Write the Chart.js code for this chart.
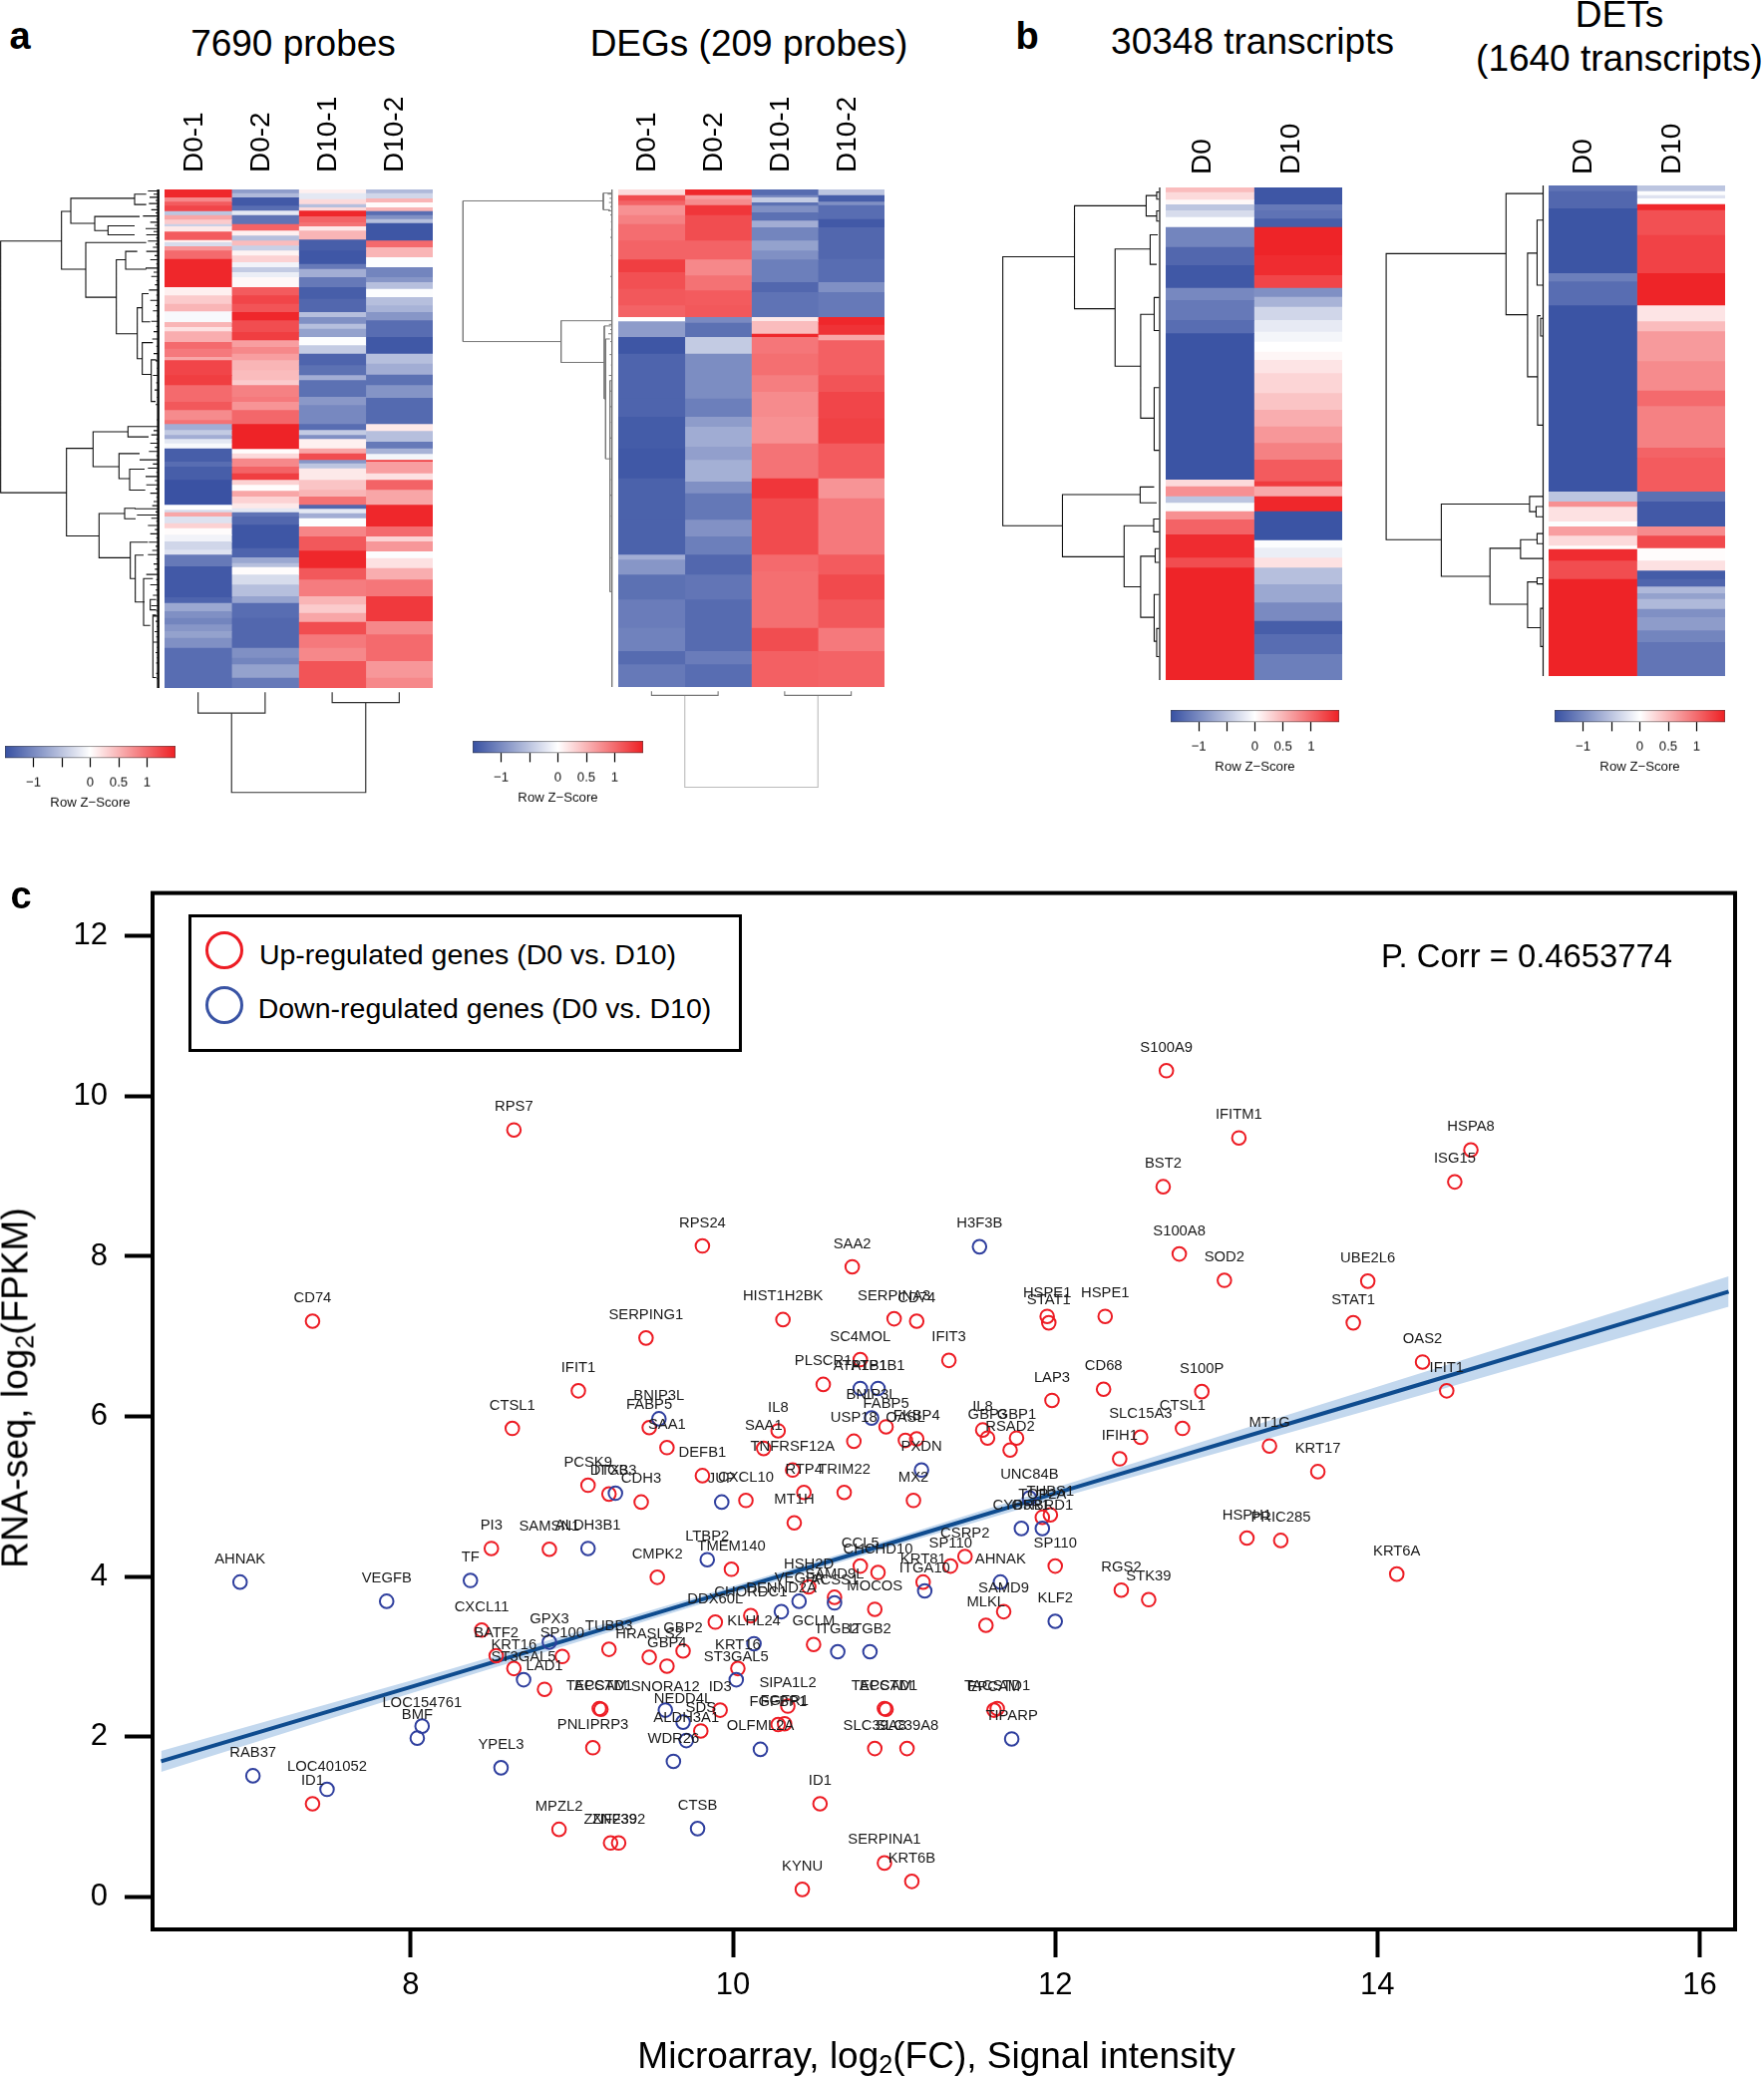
<!DOCTYPE html>
<html><head><meta charset="utf-8">
<script src="https://cdn.jsdelivr.net/npm/chart.js@4"></script>
<style>
html,body{margin:0;padding:0;background:#fff;width:1769px;height:2082px;overflow:hidden;font-family:"Liberation Sans",Arial,sans-serif;color:#000}
canvas{position:absolute;display:block}
.t{position:absolute;white-space:nowrap;line-height:1;transform:translate(-50%,-50%);z-index:5}
sub{font-size:68%;line-height:0;vertical-align:-0.22em}
#legend{position:absolute;left:189px;top:917px;width:549px;height:132px;border:3px solid #000;background:#fff;z-index:4}
.c{position:absolute;width:32px;height:32px;border-radius:50%;border-width:3.5px;border-style:solid;z-index:5}
</style></head><body>
<script>
// ---------- heat-map values: flat lists of (row end, z-score) ----------
const columnsA=['D0-1','D0-2','D10-1','D10-2'], columnsB=['D0','D10'];
const a1Rows=[0,1500], a2Rows=[0,1497], b1Rows=[0,1482], b2Rows=[0,1476];
const a1_D01=[25,1.45,38,.8,50,1.1,66,1.25,78,-.5,92,.6,105,.35,112,-.4,128,.15,153,1.1,160,.1,172,-.3,185,.7,210,1.0,295,1.45,320,.1,345,.35,368,.5,400,-.05,415,.5,428,.2,460,.55,480,1.0,505,.9,515,.6,560,1.25,590,1.3,640,1.0,665,1.12,695,.78,707,.95,725,-.7,740,-.45,752,-.7,765,-.2,780,-.05,820,-1.38,835,-1.25,875,-1.38,950,-1.48,965,0,972,-.3,985,.6,1005,-.25,1020,.3,1040,.02,1060,-.1,1085,-.35,1100,-.25,1135,-1.15,1228,-1.42,1245,-1.33,1270,-.75,1290,-.95,1310,-1.05,1330,-.9,1350,-.8,1380,-.95,1500,-1.25];
const a1_D02=[12,-.85,25,-.6,50,-1.42,65,-1.25,78,-.2,105,-1.2,125,1.05,140,.1,155,-.55,170,.45,185,-.4,200,.08,220,.3,235,-.1,250,-.45,265,-.15,295,.05,320,1.1,345,1.25,370,1.15,395,1.45,430,1.2,455,1.3,475,.65,495,.8,515,.65,545,.5,575,.45,590,.35,625,.85,640,.9,665,.72,707,1.02,782,1.48,795,.02,810,.25,835,.8,855,1.05,875,1.3,890,.3,908,.02,925,.6,945,.3,960,.15,972,-.2,985,-1.2,1010,-1.3,1080,-1.45,1108,-1.33,1125,-.75,1137,-.55,1160,.02,1190,-.3,1225,-.55,1245,-.78,1290,-1.25,1380,-1.3,1410,-.95,1430,-1.05,1470,-.8,1500,-1.15];
const a1_D101=[12,.1,30,-.2,45,.25,55,-.55,65,.25,82,1.45,100,1.05,112,.95,125,.15,152,.5,185,-1.38,225,-1.44,240,-1.15,265,-.7,295,-1.15,330,-1.38,370,-1.3,385,-.55,405,-.95,420,-.55,445,-.8,470,-.02,495,-.45,530,-1.33,560,-1.22,575,-.7,625,-1.22,650,-.88,670,-1.02,707,-1.02,725,-1.25,740,-.45,752,-.95,780,.1,795,.6,815,1.2,825,-.9,840,-.5,875,.15,905,.4,925,.5,950,.95,962,-1.3,975,-.2,990,-.7,1015,-.02,1045,.82,1088,1.12,1140,1.45,1175,1.12,1225,.88,1250,.5,1275,.35,1302,.6,1340,1.2,1380,.9,1420,.8,1500,1.15];
const a1_D102=[12,-.6,28,-.35,40,.5,55,.03,66,.5,78,-1.25,90,-.95,102,-.55,155,-1.45,175,1.0,205,.5,235,-.02,265,-1.05,280,-.9,300,-.55,325,-.02,350,-.55,370,-.65,395,-.9,445,-1.25,495,-1.43,525,-.55,558,-.7,590,-1.22,628,-.92,707,-1.28,728,.15,760,-.55,780,-1.15,797,-.65,815,-.08,820,1.3,855,.65,875,.2,905,1.05,950,.6,1015,1.45,1045,1.0,1060,.3,1090,.7,1110,-.02,1140,.2,1175,.55,1225,.92,1300,1.33,1340,.8,1420,1.0,1470,.7,1500,.8];
const a2_D01=[18,.25,35,1.2,48,1.05,78,.74,105,.85,155,.98,212,1.05,250,1.3,300,1.18,350,1.12,385,1.05,398,0,445,-.85,495,-1.45,630,-1.33,685,-1.33,780,-1.4,870,-1.43,995,-1.35,1100,-1.35,1115,-.7,1160,-.9,1235,-1.22,1320,-1.12,1390,-1.07,1430,-1.27,1497,-1.15];
const a2_D02=[18,1.45,30,.65,48,.78,78,1.35,155,1.2,212,1.05,260,.8,305,.95,350,1.1,385,1.12,402,-1.0,445,-1.22,495,-.45,630,-.98,685,-1.1,715,-.85,775,-.71,815,-.82,880,-.68,915,-.95,995,-1.16,1045,-.94,1100,-1.1,1160,-1.3,1235,-1.18,1390,-1.27,1430,-1.12,1497,-1.25];
const a2_D101=[18,-1.27,25,-1.0,40,-.45,50,-1.22,70,-.95,95,-1.22,115,-.7,155,-1.05,185,-.8,212,-.95,280,-1.1,310,-1.3,385,-1.2,397,.15,435,.45,445,1.45,495,.92,560,.97,610,.87,685,.78,765,.74,870,.94,930,1.35,1100,1.21,1150,1.0,1320,.97,1390,1.2,1497,1.07];
const a2_D102=[18,-.5,38,-1.38,48,-.95,90,-1.25,115,-1.42,210,-1.3,280,-1.25,310,-.95,385,-1.15,408,1.45,438,1.38,455,.6,560,1.07,610,1.15,690,1.25,765,1.28,870,1.1,930,.72,1100,.9,1160,1.1,1235,1.22,1320,1.12,1390,.9,1497,1.05];
const b1_D0=[15,.45,38,.25,52,.05,70,-.5,90,-.3,120,-.02,180,-1.05,235,-1.3,303,-1.43,340,-1.02,400,-1.15,440,-1.25,880,-1.47,900,.25,930,.75,950,-.5,975,-.03,1000,.75,1045,1.05,1115,1.42,1145,1.2,1482,1.47];
const b1_D10=[52,-1.45,70,-1.15,95,-1.2,120,-1.38,205,1.47,265,1.42,303,1.25,330,-.95,360,-.65,400,-.35,435,-.18,465,-.08,495,0,520,.06,560,.18,620,.28,670,.4,720,.55,770,.7,820,.85,885,1.1,900,1.32,930,.58,975,1.45,1062,-1.47,1085,-.02,1115,-.15,1145,.2,1195,-.55,1250,-.75,1305,-1.0,1345,-1.38,1405,-1.25,1482,-1.1];
const b2_D0=[18,-1.2,70,-1.3,265,-1.46,290,-1.1,362,-1.25,922,-1.47,952,-.5,968,.75,1012,.2,1027,-.02,1055,.65,1085,.25,1095,.02,1130,1.42,1185,1.2,1476,1.48];
const b2_D10=[18,-.5,30,-.02,40,-.25,57,0,75,1.45,150,1.18,265,1.27,362,1.47,410,.18,440,.45,530,.68,618,.78,665,1.0,790,.85,820,1.05,922,1.1,952,-1.22,1027,-1.42,1055,.78,1092,1.22,1130,.02,1160,.2,1185,-1.4,1208,-1.32,1228,-.6,1245,-.8,1275,-.6,1300,-.95,1340,-.85,1375,-1.05,1476,-1.18];
const keyTicks=[-1,-.5,0,.5,1];

// ---------- dendrograms: [join, rowTop, rowBottom, childTop, childBottom] ----------
const a1TreeRows=[363,1320], a2TreeRows=[363,1318], b1TreeRows=[369,1336], b2TreeRows=[364,1328];
const a1Tree=[[2,462,945,185,200],[185,405,516,213,258],[213,380,428,405,285],[405,372,392,440,440],[285,415,442,420,325],[325,433,450,405,405],[258,465,570,440,350],[350,498,640,378,413],[378,482,516,413,440],[413,590,688,428,428],[428,563,617,447,452],[428,657,718,460,455],[455,690,770,470,468],[200,860,1028,280,298],[280,828,895,385,358],[385,818,838,450,447],[358,870,918,420,390],[390,900,940,435,437],[298,985,1070,375,392],[375,975,995,408,408],[392,1040,1110,445,407],[407,1065,1155,432,435],[432,1110,1200,460,452],[452,1150,1170,470,470],[460,1180,1300,470,470]];
const a1CombRow=[366,372,378,384,390,396,402,408,414,420,426,432,438,444,450,456,462,468,474,482,490,498,506,514,522,530,538,546,556,566,576,586,596,606,616,626,636,650,664,678,692,706,720,734,748,762,776,790,805,818,826,834,842,850,858,866,874,882,890,898,906,914,922,930,938,946,954,962,970,976,982,988,994,1000,1008,1016,1024,1032,1040,1048,1056,1064,1072,1082,1092,1102,1112,1122,1132,1142,1152,1162,1172,1182,1192,1202,1212,1222,1232,1242,1252,1262,1272,1282,1292,1302,1312];
const a1CombFrom=[445,462,450,468,448,470,455,468,430,470,452,466,438,462,440,470,445,468,460,440,465,452,470,438,462,455,470,466,448,470,452,468,460,472,455,470,462,458,470,462,468,472,460,470,465,472,468,474,472,450,462,455,470,452,466,448,470,420,460,445,470,438,466,440,468,452,470,462,458,405,468,412,455,470,445,466,452,470,448,468,458,445,470,462,466,440,470,452,468,460,472,455,470,462,468,472,465,470,462,472,468,472,470,474,470,472,474];
const a2Tree=[[43,385,655,465,338],[465,370,402,490,485],[338,615,695,490,468],[468,625,765,488,472],[472,650,880,485,485],[485,730,1135,491,491]];
const a2CombRow=[372,380,388,396,404,412,425,440,455,470,490,510,530,550,570,590,600,622,632,640,655,680,700,720,750,780,810,840,880,920,950,990,1030,1070,1110,1150,1190,1230,1270,1310];
const a2CombFrom=[478,484,482,486,480,486,488,488,486,490,488,490,486,490,488,492,490,482,486,480,486,484,488,482,486,484,488,484,486,488,486,488,490,488,490,492,490,492,490,492];
const b1Tree=[[51,505,1033,194,170],[194,405,607,337,275],[337,385,425,358,358],[358,378,392,363,363],[358,415,435,363,363],[275,490,720,345,326],[345,462,520,360,358],[326,618,822,353,353],[353,585,650,363,363],[353,762,885,363,363],[170,972,1094,325,293],[325,957,988,353,358],[293,1033,1153,352,326],[352,1020,1045,363,363],[326,1093,1213,355,353],[355,1078,1105,363,363],[353,1168,1260,363,358],[358,1235,1290,363,363]];
const b2Tree=[[814,498,1060,1053,924],[1053,380,618,1127,1096],[1096,497,740,1115,1116],[1115,432,560,1127,1127],[1116,620,835,1122,1127],[1122,625,660,1127,1127],[924,990,1132,1100,1021],[1100,975,1005,1127,1113],[1113,995,1015,1127,1127],[1021,1077,1187,1082,1096],[1082,1060,1097,1115,1127],[1115,1048,1068,1127,1127],[1096,1143,1233,1115,1122],[1115,1135,1147,1127,1127],[1122,1195,1270,1127,1127]];
// column trees: [leftColumn, rightColumn, joinLevel, leftChild, rightChild]
const a1ColTree=[[.5,1.5,1368,1328,1328],[2.5,3.5,1348,1328,1328],[1,3,1520,1368,1348]];
const a2ColTree=[[.5,1.5,1334,1326,1326],[2.5,3.5,1334,1326,1326],[1,3,1510,1334,1334]];

// ---------- scatter values ----------
const upGenes=['RPS7','CD74','RPS24','SERPING1','IFIT1','CTSL1','FABP5','SAA1','DEFB1','PCSK9','DTX3','CDH3','PI3','SAMSN1','CMPK2','TMEM140','CXCL11','BATF2','KRT16','SP100','TUBB3','HRASLS2','GBP2','GBP4','LAD1','TACSTD1','EPCAM','ID3','SDS','PNLIPRP3','DDX60L','CHORDC1','KRT16','GCLM','HSH2D','SAMD9L','MOCOS','CCL5','CHCHD10','KRT81','SP110','CSRP2','SIPA1L2','FGFBP1','FGFR1','TACSTD1','EPCAM','SLC39A8','SLC39A8','ID1','MPZL2','ZNF239','ZNF392','KYNU','SERPINA1','KRT6B','TACSTD1','EPCAM','MLKL','SAMD9','ID1','SAA2','HIST1H2BK','SERPINA3','CD74','HSPE1','STAT1','HSPE1','SC4MOL','IFIT3','PLSCR1','LAP3','CD68','FABP5','USP18','OASL','FKBP4','IL8','SAA1','TNFRSF12A','RTP4','TRIM22','MT1H','CXCL10','MX2','IL8','GBP3','GBP1','RSAD2','THBS1','TOP2A','SP110','S100A9','IFITM1','HSPA8','ISG15','BST2','S100A8','SOD2','UBE2L6','STAT1','OAS2','IFIT1','S100P','CTSL1','SLC15A3','IFIH1','MT1G','KRT17','HSPH1','PRIC285','KRT6A','RGS2','STK39'];
const upX=[8.64,7.39,9.81,9.46,9.04,8.63,9.48,9.59,9.81,9.10,9.23,9.43,8.50,8.86,9.53,9.99,8.44,8.53,8.64,8.94,9.23,9.48,9.69,9.59,8.83,9.17,9.18,9.92,9.80,9.13,9.89,10.11,10.03,10.50,10.47,10.63,10.88,10.79,10.90,11.18,11.35,11.44,10.34,10.28,10.32,10.94,10.95,10.88,11.08,10.54,8.92,9.24,9.29,10.43,10.94,11.11,11.64,11.62,11.57,11.68,7.39,10.74,10.31,11.0,11.14,11.95,11.96,12.31,10.79,11.34,10.56,11.98,12.30,10.95,10.75,11.07,11.14,10.28,10.19,10.37,10.44,10.69,10.38,10.08,11.12,11.55,11.58,11.76,11.72,11.97,11.92,12.0,12.69,13.14,14.58,14.48,12.67,12.77,13.05,13.94,13.85,14.28,14.43,12.91,12.79,12.53,12.40,13.33,13.63,13.19,13.40,14.12,12.41,12.58];
const upY=[9.58,7.19,8.13,6.98,6.32,5.85,5.86,5.61,5.26,5.14,5.03,4.93,4.35,4.34,3.99,4.09,3.33,3.01,2.85,3.0,3.09,2.99,3.07,2.88,2.59,2.35,2.34,2.33,2.07,1.86,3.43,3.51,2.85,3.15,3.87,3.74,3.59,4.13,4.05,3.93,4.13,4.25,2.38,2.15,2.16,2.35,2.34,1.85,1.85,1.16,.84,.67,.67,.09,.42,.19,2.35,2.33,3.39,3.56,1.16,7.87,7.21,7.22,7.19,7.25,7.17,7.25,6.71,6.70,6.40,6.20,6.34,5.87,5.69,5.70,5.72,5.82,5.60,5.33,5.05,5.05,4.67,4.95,4.95,5.83,5.73,5.73,5.58,4.77,4.74,4.13,10.32,9.48,9.33,8.93,8.87,8.03,7.70,7.69,7.17,6.68,6.32,6.31,5.85,5.74,5.47,5.63,5.31,4.48,4.45,4.03,3.83,3.71];
const downGenes=['AHNAK','VEGFB','RAB37','LOC401052','BMF','LOC154761','YPEL3','TF','ALDH3B1','GPX3','ST3GAL5','ITGB3','BNIP3L','JUP','LTBP2','VEGFA','ACSS1','DENND2A','KLHL24','ITGB2','ITGB2','ST3GAL5','SNORA12','NEDD4L','ALDH3A1','WDR26','OLFML2A','CTSB','ITGA10','AHNAK','KLF2','TIPARP','H3F3B','ATP1B1','ATP1B1','BNIP3L','PXDN','UNC84B','CYB5R1','ORBRD1'];
const downX=[6.94,7.85,7.02,7.48,8.04,8.07,8.56,8.37,9.10,8.86,8.70,9.27,9.54,9.93,9.84,10.41,10.63,10.30,10.13,10.65,10.85,10.02,9.58,9.69,9.71,9.63,10.17,9.78,11.19,11.66,12.0,11.73,11.53,10.79,10.90,10.86,11.17,11.84,11.79,11.92];
const downY=[3.93,3.69,1.51,1.34,1.98,2.13,1.61,3.95,4.35,3.18,2.71,5.04,5.97,4.93,4.21,3.69,3.67,3.56,3.16,3.06,3.06,2.71,2.33,2.18,1.95,1.69,1.84,.85,3.82,3.93,3.44,1.97,8.12,6.35,6.35,5.98,5.33,4.98,4.60,4.60];
const fitX=[6.45,8,10,11,12,14,16.18];
const fitY=[1.69,2.62,3.83,4.43,5.04,6.24,7.56];
const fitLow=[1.56,2.54,3.78,4.38,4.97,6.11,7.37];
const fitHigh=[1.82,2.70,3.88,4.48,5.11,6.37,7.75];
const xTicks=[8,10,12,14,16], yTicks=[0,2,4,6,8,10,12];

// ---------- helpers ----------
const FONT='"Liberation Sans",Arial,sans-serif';
Chart.defaults.font.family=FONT;
Chart.defaults.color='#000';
const BLUE=[55,80,162], RED=[238,32,36];
function zColor(z){
  const f=Math.min(1,Math.abs(z)/1.5), c=z<0?BLUE:RED;
  return `rgb(${c.map(v=>Math.round(255+(v-255)*f)).join(',')})`;
}
function canvas(l,t,w,h){
  const c=document.createElement('canvas');
  c.width=w;c.height=h;c.style.cssText=`left:${l}px;top:${t}px;width:${w}px;height:${h}px`;
  document.body.appendChild(c);return c.getContext('2d');
}
const base={responsive:false,animation:false,devicePixelRatio:1,layout:{padding:0},plugins:{legend:{display:false},tooltip:{enabled:false}}};
function text(s,x,y,size,extra){
  const d=document.createElement('div');d.className='t';d.innerHTML=s;
  d.style.cssText=`left:${x}px;top:${y}px;font-size:${size}px;${extra||''}`;
  document.body.appendChild(d);
}
function heat(l,t,w,h,head,pad,offset,labelSize,names,rows,cols){
  const datasets=cols.map((flat,k)=>{
    const data=[],bg=[];let prev=rows[0];
    for(let i=0;i<flat.length;i+=2){data.push({x:names[k],y:[prev,flat[i]]});bg.push(zColor(flat[i+1]));prev=flat[i];}
    return {data,backgroundColor:bg,borderWidth:0,grouped:false,barPercentage:1,categoryPercentage:1};
  });
  new Chart(canvas(l,t-head,w,h+head),{type:'bar',data:{labels:names,datasets},options:{...base,
    scales:{
      x:{position:'top',offset:true,grid:{display:false},border:{display:false},
         afterFit:s=>{s.height=head;s.paddingLeft=0;s.paddingRight=0;},
         ticks:{autoSkip:false,minRotation:90,maxRotation:90,padding:pad,labelOffset:offset,font:{size:labelSize}}},
      y:{display:false,reverse:true,min:rows[0],max:rows[1]}
    }}});
}
function treeChart(l,t,w,h,xr,yr,tree,spine,combRow,combFrom,color,lw,spineW){
  const data=[];const gap={x:NaN,y:NaN};
  tree.forEach(m=>{data.push({x:m[3],y:m[1]},{x:m[0],y:m[1]},{x:m[0],y:m[2]},{x:m[4],y:m[2]},gap);});
  (combRow||[]).forEach((r,i)=>{data.push({x:combFrom[i],y:r},{x:spine,y:r},gap);});
  const spineData=[{x:spine,y:yr[0]},{x:spine,y:yr[1]}];
  new Chart(canvas(l,t,w,h),{type:'scatter',data:{datasets:[
    {data,showLine:true,pointRadius:0,borderColor:color,borderWidth:lw,spanGaps:false,clip:false},
    {data:spineData,showLine:true,pointRadius:0,borderColor:color,borderWidth:spineW,clip:false}]},
    options:{...base,scales:{x:{display:false,min:xr[0],max:xr[1]},y:{display:false,reverse:true,min:yr[0],max:yr[1]}}}});
}
function colTree(l,t,w,h,yr,tree,colors,lw){
  const datasets=tree.map((m,i)=>({data:[{x:m[0],y:m[3]},{x:m[0],y:m[2]},{x:m[1],y:m[2]},{x:m[1],y:m[4]}],showLine:true,pointRadius:0,borderColor:colors[i],borderWidth:lw,clip:false}));
  new Chart(canvas(l,t,w,h),{type:'scatter',data:{datasets},options:{...base,scales:{x:{display:false,min:0,max:4},y:{display:false,reverse:true,min:yr[0],max:yr[1]}}}});
}
function key(l,t,w,barH){
  const axisH=52;
  new Chart(canvas(l,t,w,barH+axisH),{type:'bar',data:{labels:['z'],datasets:[{data:[[-1.5,1.5]],borderWidth:.8,borderColor:'#444',borderSkipped:false,barPercentage:1,categoryPercentage:1,
    backgroundColor:c=>{const a=c.chart.chartArea;if(!a)return '#fff';const g=c.chart.ctx.createLinearGradient(a.left,0,a.right,0);
      g.addColorStop(0,zColor(-1.5));g.addColorStop(.5,zColor(0));g.addColorStop(1,zColor(1.5));return g;}}]},
    options:{...base,indexAxis:'y',scales:{
      y:{display:false},
      x:{min:-1.5,max:1.5,position:'bottom',afterFit:s=>{s.height=axisH;s.paddingLeft=0;s.paddingRight=0;},afterBuildTicks:s=>{s.ticks=keyTicks.map(v=>({value:v}))},
         border:{display:false},grid:{drawOnChartArea:false,tickLength:9,tickColor:'#000',tickWidth:1.2},
         ticks:{padding:7,maxRotation:0,autoSkip:false,font:{size:13.2},color:'#111',callback:v=>v===-1?'\u22121':v===-.5?'':String(v)},
         title:{display:true,text:'Row Z\u2212Score',font:{size:13.2},color:'#111',padding:{top:0,bottom:0}}}
    }}});
}

// ---------- panel a ----------
heat(165,190,269,500,100,9,30,28,columnsA,a1Rows,[a1_D01,a1_D02,a1_D101,a1_D102]);
heat(620,190,267,499,100,9,30,28,columnsA,a2Rows,[a2_D01,a2_D02,a2_D101,a2_D102]);
treeChart(0,190,160,500,[0,480],a1TreeRows,a1Tree,476,a1CombRow,a1CombFrom,'#111',1.1,2.5);
treeChart(450,190,165,499,[0,495],a2TreeRows,a2Tree,491,a2CombRow,a2CombFrom,'#777',1,1);
colTree(165,690,269,110,[1320,1530],a1ColTree,['#333','#333','#333'],1.2);
colTree(620,689,267,110,[1318,1528],a2ColTree,['#777','#777','#bbb'],1.1);
key(5,748,171,12.5);
key(474,743,171,12.5);
// ---------- panel b ----------
heat(1169,188,177,494,80,5,27,28,columnsB,b1Rows,[b1_D0,b1_D10]);
heat(1553,186,177,492,80,3,25,28,columnsB,b2Rows,[b2_D0,b2_D10]);
treeChart(980,188,185,494,[0,368],b1TreeRows,b1Tree,364,null,null,'#111',1.1,1.2);
treeChart(1372.6,186,176,492,[780,1130],b2TreeRows,b2Tree,1127,null,null,'#111',1.1,1.2);
key(1174,712,169,12.5);
key(1559,712,171,12.5);

// ---------- panel c ----------
const boxPlugin={id:'box',afterDraw(ch){const a=ch.chartArea,c=ch.ctx;c.save();c.strokeStyle='#000';c.lineWidth=4;c.strokeRect(a.left,a.top,a.right-a.left,a.bottom-a.top);c.restore();}};
const geneLabels={id:'geneLabels',afterDatasetsDraw(ch){
  const c=ch.ctx,sx=ch.scales.x,sy=ch.scales.y;c.save();c.font='14.8px '+FONT;c.fillStyle='#1a1a1a';c.textAlign='center';c.textBaseline='middle';
  [[upGenes,upX,upY],[downGenes,downX,downY]].forEach(([n,xs,ys])=>n.forEach((g,i)=>c.fillText(g,sx.getPixelForValue(xs[i]),sy.getPixelForValue(ys[i])-23)));
  c.restore();}};
const xy=(xs,ys)=>xs.map((x,i)=>({x,y:ys[i]}));
new Chart(canvas(0,860,1769,1222),{type:'scatter',plugins:[boxPlugin,geneLabels],data:{datasets:[
  {label:'fit upper',data:xy(fitX,fitHigh),showLine:true,pointRadius:0,borderWidth:0,backgroundColor:'#c3d8ee',fill:'+1',order:5},
  {label:'fit lower',data:xy(fitX,fitLow),showLine:true,pointRadius:0,borderWidth:0,order:5},
  {label:'fit',data:xy(fitX,fitY),showLine:true,pointRadius:0,borderColor:'#0f4c8f',borderWidth:4,order:4},
  {label:'Up-regulated genes (D0 vs. D10)',data:xy(upX,upY),pointRadius:6.8,pointBorderWidth:2,pointBorderColor:'#ed1c24',pointBackgroundColor:'rgba(0,0,0,0)',order:2},
  {label:'Down-regulated genes (D0 vs. D10)',data:xy(downX,downY),pointRadius:6.8,pointBorderWidth:2,pointBorderColor:'#2f3f9e',pointBackgroundColor:'rgba(0,0,0,0)',order:1}
]},options:{...base,layout:{padding:{top:32,right:29,left:0,bottom:0}},scales:{
  x:{type:'linear',min:6.397,max:16.22,afterFit:s=>{s.height=147},afterBuildTicks:s=>{s.ticks=xTicks.map(v=>({value:v}))},
     border:{display:false},grid:{drawOnChartArea:false,tickLength:28,tickWidth:4,tickColor:'#000'},
     ticks:{padding:10,maxRotation:0,font:{size:31},color:'#000'}},
  y:{min:-.41,max:12.54,afterFit:s=>{s.width=153},afterBuildTicks:s=>{s.ticks=yTicks.map(v=>({value:v}))},
     border:{display:false},grid:{drawOnChartArea:false,tickLength:28,tickWidth:4,tickColor:'#000'},
     ticks:{padding:17,font:{size:31},color:'#000'}}
}}});

// ---------- html text ----------
text('a',20,36,38,'font-weight:bold');
text('b',1030,36,38,'font-weight:bold');
text('c',21,898,38,'font-weight:bold');
text('7690 probes',294,43,37);
text('DEGs (209 probes)',751,43,37);
text('30348 transcripts',1256,41,37);
text('DETs',1624,14,37);
text('(1640 transcripts)',1624,58,37);
text('Microarray, log<sub>2</sub>(FC), Signal intensity',939,2061,37);
text('RNA-seq, log<sub>2</sub>(FPKM)',15,1392,37,'transform:translate(-50%,-50%) rotate(-90deg)');
const lg=document.createElement('div');lg.id='legend';document.body.appendChild(lg);
[[953,'#ed1c24'],[1008,'#3953a4']].forEach(([y,col])=>{const d=document.createElement('div');d.className='c';d.style.cssText=`left:${225-19.5}px;top:${y-19.5}px;border-color:${col}`;document.body.appendChild(d);});
text('Up-regulated genes (D0 vs. D10)',469,957,28.5);
text('Down-regulated genes (D0 vs. D10)',486,1011,28.5);
text('P. Corr = 0.4653774',1531,959,32.8);
</script>
</body></html>
